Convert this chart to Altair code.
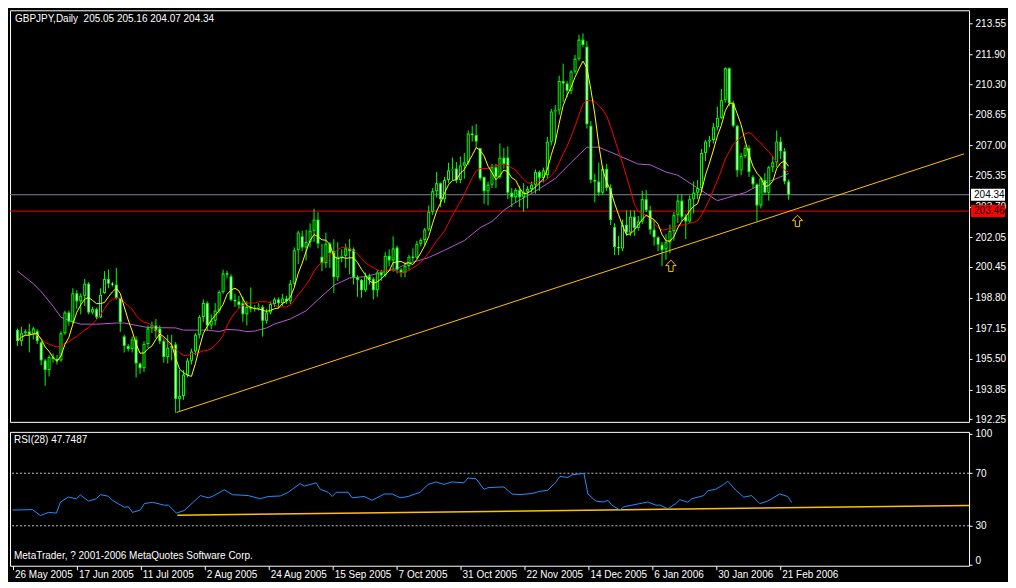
import json
import altair as alt
import pandas as pd

# ---------------- data ----------------
open_ = [197.06,196.46,196.88,196.98,196.80,197.00,196.40,195.42,194.90,195.60,
         195.50,195.42,196.88,198.00,197.50,199.03,198.60,198.90,199.55,198.00,
         198.18,197.74,199.05,199.80,199.55,199.50,198.78,196.71,196.20,196.03,
         196.54,195.25,195.00,196.30,197.14,197.30,197.14,196.45,195.60,196.10,
         196.28,193.35,193.50,194.65,195.40,195.90,196.80,197.75,198.51,197.30,
         197.55,198.10,199.10,200.10,199.95,198.68,198.60,198.50,197.90,198.30,
         198.20,198.25,198.30,197.55,198.00,198.45,198.70,198.50,198.75,198.60,
         199.55,201.35,202.10,201.50,201.80,202.40,203.00,201.00,200.66,201.70,
         201.30,199.90,201.00,201.05,201.45,201.40,199.90,199.75,199.20,199.95,
         199.80,199.20,200.15,200.00,201.05,200.80,201.50,200.30,200.15,200.50,
         201.00,200.95,201.70,201.90,202.47,203.42,204.53,204.96,204.10,205.13,
         205.65,205.75,205.13,205.91,206.08,207.63,207.55,206.85,205.30,204.53,
         204.88,205.82,205.30,206.33,206.34,204.45,204.20,204.60,204.20,204.50,
         204.65,204.88,205.56,205.25,205.40,207.19,208.82,208.89,210.46,210.33,
         209.94,210.97,211.66,212.69,212.31,208.05,205.13,205.05,204.45,205.73,
         204.70,202.60,201.52,201.45,202.72,202.30,203.15,202.55,202.90,204.10,
         203.50,202.46,202.05,201.65,201.40,201.78,202.38,203.24,204.02,203.15,
         202.90,204.10,204.45,204.70,206.59,207.20,207.28,207.97,208.48,209.43,
         211.15,209.26,208.05,205.65,206.42,206.85,205.30,204.90,203.76,205.13,
         204.45,205.82,206.08,207.20,206.68,205.05]
high = [197.14,197.23,197.10,197.40,197.23,197.10,196.45,195.50,195.70,195.80,
        195.70,196.98,198.08,198.10,199.30,199.20,199.03,199.80,199.63,198.30,
        198.26,199.30,200.23,200.32,199.65,200.41,198.80,196.80,196.30,196.71,
        196.71,195.30,196.45,197.30,197.50,197.65,197.30,196.60,196.80,196.80,
        196.40,194.90,194.90,195.55,196.05,196.90,197.85,198.70,198.60,197.90,
        198.50,199.20,200.30,200.25,200.06,199.00,198.90,198.85,198.60,199.35,
        198.40,198.50,198.40,198.20,198.60,198.80,198.80,199.00,198.90,199.75,
        201.50,202.40,202.40,202.45,202.80,203.58,203.40,201.70,202.30,201.80,
        201.95,201.78,201.40,201.70,201.95,201.50,200.00,199.80,200.15,200.10,
        199.90,200.30,200.30,201.25,201.40,202.10,201.60,200.40,200.70,201.10,
        201.45,201.85,202.00,202.55,203.76,204.70,205.56,205.00,205.30,206.06,
        206.34,206.10,206.40,206.59,207.80,208.05,208.14,206.85,205.30,205.05,
        206.00,206.00,207.10,206.85,206.94,204.70,204.70,204.80,204.96,204.80,
        205.05,205.70,205.65,205.80,207.45,208.96,209.17,210.75,211.40,210.45,
        211.05,211.86,212.95,213.03,212.60,208.30,205.47,206.07,205.90,206.00,
        204.90,202.80,202.12,203.00,203.50,203.50,203.50,203.20,204.55,204.60,
        203.75,202.98,202.10,201.80,202.21,202.73,203.41,204.36,204.36,203.30,
        204.30,205.05,205.13,206.80,207.28,207.50,208.20,209.08,210.03,211.20,
        211.20,209.40,208.10,206.60,207.00,207.00,205.39,204.95,205.30,205.50,
        205.90,206.42,207.80,207.45,206.85,205.16]
low = [196.20,196.20,196.80,195.85,196.54,196.30,195.17,194.05,194.55,195.30,
       195.20,195.35,196.80,197.30,197.40,198.20,197.90,198.35,197.90,197.90,
       197.65,197.70,199.00,199.30,199.40,198.70,196.96,195.85,195.90,195.85,
       194.50,194.70,194.80,196.10,196.90,196.62,196.30,195.30,195.25,195.42,
       192.60,192.70,193.30,194.50,195.20,195.70,196.60,197.50,197.00,197.10,
       197.30,197.95,199.00,199.85,198.60,198.30,198.20,197.50,197.30,198.00,
       198.05,198.10,196.70,197.40,197.90,198.30,198.20,198.35,198.45,198.45,
       199.40,200.60,201.30,200.80,201.50,201.80,201.45,200.23,200.40,200.40,
       199.05,199.70,200.70,200.40,200.05,199.50,198.85,198.80,199.10,199.50,
       198.70,198.85,199.70,199.90,200.50,200.20,200.10,199.90,199.90,200.30,
       200.75,200.90,201.55,201.60,202.38,203.25,204.19,203.67,203.90,204.96,
       205.13,204.96,204.96,205.20,205.95,207.20,206.85,205.10,203.85,203.76,
       204.70,204.70,205.20,205.75,204.10,203.67,203.90,203.67,203.42,203.60,
       204.45,204.40,204.55,205.00,205.20,206.99,207.10,208.65,209.33,209.60,
       209.75,210.85,211.55,212.30,207.90,204.96,203.93,204.28,204.35,204.55,
       202.70,201.09,201.09,201.30,202.12,202.12,202.12,202.40,202.75,203.40,
       202.20,201.60,201.30,200.50,200.84,201.18,201.87,202.82,202.90,201.95,
       202.80,203.33,204.10,204.50,206.16,206.90,207.10,207.80,208.40,209.30,
       209.10,207.97,205.30,205.39,206.30,205.30,204.70,202.90,203.60,204.40,
       204.02,205.56,205.82,206.25,204.90,204.07]
close = [196.46,196.88,196.98,196.80,197.14,196.46,195.42,194.90,195.60,195.50,
         195.42,196.88,198.00,197.50,199.03,198.60,198.90,199.55,198.00,198.18,
         197.74,198.95,199.80,199.55,199.50,198.78,197.48,196.20,196.03,196.54,
         195.25,195.00,196.30,197.14,197.30,197.00,196.45,195.60,196.10,196.20,
         193.35,193.50,194.65,195.40,195.90,196.80,197.75,198.51,197.30,197.55,
         198.10,199.10,200.10,200.05,198.68,198.60,198.40,197.90,198.30,198.20,
         198.25,198.30,197.55,198.00,198.45,198.70,198.50,198.75,198.60,199.55,
         201.35,202.30,201.50,201.80,202.40,203.00,201.70,200.66,201.70,201.20,
         199.90,201.00,201.05,201.45,201.30,199.90,199.75,199.20,199.95,199.75,
         199.20,200.15,200.00,201.05,200.80,201.45,200.30,200.15,200.50,201.00,
         200.95,201.70,201.90,202.47,203.42,204.53,204.96,204.10,205.13,205.65,
         205.70,205.13,205.91,206.08,207.63,207.55,207.20,205.22,204.53,204.88,
         205.82,205.30,206.33,206.00,204.45,204.20,204.60,204.20,204.50,204.65,
         204.88,205.56,205.25,205.65,207.19,208.82,208.89,210.46,210.33,209.94,
         210.97,211.66,212.69,212.40,208.14,205.13,205.05,204.45,205.73,204.70,
         202.98,201.52,201.45,202.72,202.30,203.15,202.55,202.90,204.10,203.50,
         202.46,202.05,201.65,201.35,201.78,202.38,203.24,204.02,203.15,202.90,
         204.10,204.45,204.70,206.59,207.20,207.28,207.97,208.48,209.43,211.15,
         209.26,208.05,205.65,206.42,206.85,205.56,204.90,203.76,205.22,204.45,
         205.82,206.08,207.20,206.68,205.05,204.34]

# purple (slow) moving average
ma_slow_bar = [0,4,6,9,11,14,16,20,25,27,30,33,40,42,48,51,53,56,58,60,63,65,69,73,
               76,80,84,88,92,96,98,104,108,113,117,120,123,126,131,136,140,144,
               147,152,157,160,164,167,172,177,181,184,187,191,195]
ma_slow_val = [200.23,199.55,199.12,198.34,197.74,197.49,197.37,197.37,197.43,197.43,
               197.31,197.19,197.17,197.05,197.05,196.97,197.09,197.05,196.97,197.00,
               197.17,197.38,197.65,198.09,198.69,199.46,199.86,199.93,200.15,200.37,
               200.58,200.96,201.35,201.87,202.56,202.90,203.50,203.93,204.53,205.21,
               206.07,206.90,206.90,206.45,205.99,205.95,205.56,205.39,204.70,204.02,
               204.27,204.45,204.79,205.13,205.48]

# RSI(28)
rsi_bar = [0,5,7,9,11,12,14,16,17,19,21,22,24,25,28,29,30,32,33,35,38,39,41,43,47,49,
           50,53,55,59,62,64,67,69,72,73,76,77,79,80,81,84,85,88,90,93,95,97,99,102,
           104,106,108,110,113,114,116,118,119,122,123,125,127,130,132,134,136,137,
           139,140,143,144,146,148,149,150,152,153,155,157,159,161,162,164,166,167,
           169,170,173,174,176,178,179,181,183,185,187,189,192,194,195]
rsi_val = [42.0,42.3,37.8,40.2,39.7,48.1,51.8,50.6,53.5,48.8,50.6,53.7,52.5,49.4,44.1,
           44.5,40.2,42.0,46.9,47.9,45.7,45.7,39.7,41.6,53.0,51.3,52.3,57.4,53.7,53.0,
           50.6,52.3,52.7,55.5,62.2,60.2,62.7,57.8,55.5,52.3,55.5,55.5,51.3,52.3,49.4,
           54.2,54.2,51.3,52.3,55.5,61.5,63.4,61.5,63.4,62.7,66.4,65.8,57.8,59.0,59.5,
           59.5,54.2,53.7,54.6,56.2,57.1,63.4,67.6,66.8,68.8,69.9,54.2,48.8,48.1,49.4,
           45.7,42.0,44.5,45.7,46.9,48.1,45.7,45.7,43.0,46.9,49.9,47.9,50.6,53.0,56.6,
           57.8,61.5,63.9,57.1,51.8,53.0,46.9,48.8,54.2,52.3,47.7]

# trend lines (bar index, value)
tl_price_bar = [40.25, 239.375]
tl_price_val = [192.62, 206.54]
tl_rsi_bar = [41.25, 239.375]
tl_rsi_val = [38.0, 45.5]

# arrows
arrow_bar = [165.25, 197.25]
arrow_price = [200.51, 202.93]

# price levels
level_val = [204.34, 203.46]
level_lab = ["204.34", "203.46"]
level_line = ["#778899", "#FF0000"]
level_box = ["#FFFFFF", "#FF0000"]

price_ticks = [192.25, 193.85, 195.50, 197.15, 198.80, 200.45, 202.05, 203.70,
               205.35, 207.00, 208.65, 210.30, 211.90, 213.55]
rsi_ticks = [0, 30, 70, 100]
rsi_levels = [30, 70]
date_ticks = [0, 16, 32, 48, 64, 80, 96, 112, 128, 144, 160, 176, 192]
date_labels = ["26 May 2005", "17 Jun 2005", "11 Jul 2005", "2 Aug 2005", "24 Aug 2005",
               "15 Sep 2005", "7 Oct 2005", "31 Oct 2005", "22 Nov 2005", "14 Dec 2005",
               "6 Jan 2006", "30 Jan 2006", "21 Feb 2006"]

title_text = "GBPJPY,Daily\u00a0 205.05 205.16 204.07 204.34"
rsi_text = "RSI(28) 47.7487"
copy_text = "MetaTrader, ? 2001-2006 MetaQuotes Software Corp."

# ---------------- chart ----------------
FONT = "Liberation Sans"
W = 960
H_MAIN = 412
H_RSI = 134
LIME = "#00FF00"
GOLD = "#FFC000"

n = len(close)
candles = pd.DataFrame({"i": list(range(n)), "O": open_, "H": high, "L": low, "C": close})
candles["top"] = candles[["O", "C"]].max(axis=1)
candles["bot"] = candles[["O", "C"]].min(axis=1)

xscale = alt.Scale(domain=[-0.625, 239.375], nice=False, zero=False)
pscale = alt.Scale(domain=[192.11, 214.27], nice=False, zero=False)
rscale = alt.Scale(domain=[-0.4, 101.5], nice=False, zero=False)

X = alt.X("i:Q", scale=xscale, axis=None)
price_axis = alt.Axis(values=price_ticks, format=".2f", orient="right", grid=False,
                      domain=False, tickColor="white", tickSize=3, labelPadding=3,
                      labelOverlap=False, labelBound=False,
                      labelColor="white", labelFont=FONT, labelFontSize=10, title=None)

base = alt.Chart(candles)

levels_df = pd.DataFrame({"v": level_val, "lab": level_lab, "lc": level_line, "bc": level_box})
level_lines = alt.Chart(levels_df).mark_rule(strokeWidth=1).encode(
    y=alt.Y("v:Q", scale=pscale, axis=price_axis),
    color=alt.Color("lc:N", scale=None))

wicks = base.mark_rule(color=LIME, strokeWidth=1).encode(
    x=X, y=alt.Y("L:Q", scale=pscale, axis=price_axis), y2="H:Q")
bodies = base.mark_bar(size=3, color=LIME).encode(
    x=X, y=alt.Y("top:Q", scale=pscale, axis=price_axis), y2="bot:Q")
inner = base.mark_bar(size=1, yOffset=1, y2Offset=-1).encode(
    x=X, y=alt.Y("top:Q", scale=pscale, axis=price_axis), y2="bot:Q",
    color=alt.condition("datum.C < datum.O", alt.value("#FFFFFF"), alt.value("#000000")))

ma_fast = base.transform_window(
    m="mean(C)", frame=[-4, 0], sort=[alt.SortField("i")]
).mark_line(color="#FFFF00", strokeWidth=1).encode(
    x=X, y=alt.Y("m:Q", scale=pscale, axis=price_axis))
ma_mid = base.transform_window(
    m="mean(C)", frame=[-12, 0], sort=[alt.SortField("i")]
).mark_line(color="#FF0000", strokeWidth=1).encode(
    x=X, y=alt.Y("m:Q", scale=pscale, axis=price_axis))
slow_df = pd.DataFrame({"i": ma_slow_bar, "m": ma_slow_val})
ma_slow = alt.Chart(slow_df).mark_line(color="#BA55D3", strokeWidth=1).encode(
    x=X, y=alt.Y("m:Q", scale=pscale, axis=price_axis))

tl_df = pd.DataFrame({"i": tl_price_bar, "v": tl_price_val})
trend = alt.Chart(tl_df).mark_line(color=GOLD, strokeWidth=1).encode(
    x=X, y=alt.Y("v:Q", scale=pscale, axis=price_axis))

arrow_path = "M0,-1L0.9,-0.05L0.38,-0.05L0.38,1L-0.38,1L-0.38,-0.05L-0.9,-0.05Z"
arr_df = pd.DataFrame({"i": arrow_bar, "v": arrow_price})
arrows = alt.Chart(arr_df).mark_point(shape=arrow_path, size=130, filled=True,
                                      fill="#000000", stroke=GOLD, strokeWidth=1,
                                      opacity=1).encode(
    x=X, y=alt.Y("v:Q", scale=pscale, axis=price_axis))

title_df = pd.DataFrame({"t": [title_text]})
title = alt.Chart(title_df).mark_text(align="left", baseline="middle", color="white",
                                      font=FONT, fontSize=10).encode(
    x=alt.value(5), y=alt.value(9), text="t:N")

boxes = alt.Chart(levels_df).mark_rect(yOffset=-6, y2Offset=6).encode(
    x=alt.value(W + 2), x2=alt.value(W + 36),
    y=alt.Y("v:Q", scale=pscale, axis=price_axis), y2="v:Q",
    color=alt.Color("bc:N", scale=None))
box_text = alt.Chart(levels_df).mark_text(align="left", baseline="middle", color="black",
                                          font=FONT, fontSize=10).encode(
    x=alt.value(W + 5), y=alt.Y("v:Q", scale=pscale, axis=price_axis), text="lab:N")

main = alt.layer(level_lines, ma_slow, wicks, bodies, inner, ma_mid, ma_fast, trend,
                 arrows, title, boxes, box_text).properties(width=W, height=H_MAIN)

# ---------------- RSI panel ----------------
label_expr = json.dumps(date_labels) + "[round(datum.value / 16)]"
date_axis = alt.Axis(values=date_ticks, labelExpr=label_expr, orient="bottom", grid=False,
                     domain=False, tickColor="white", tickSize=4, labelAlign="left",
                     labelBaseline="top", labelOffset=2, labelPadding=0, labelColor="white",
                     labelFont=FONT, labelFontSize=10, labelOverlap=False, title=None)
rsi_axis = alt.Axis(values=rsi_ticks, orient="right", grid=False, domain=False,
                    tickColor="white", tickSize=3, labelPadding=3, labelFlush=True,
                    labelOverlap=False,
                    labelColor="white", labelFont=FONT, labelFontSize=10, title=None)

rsi_df = pd.DataFrame({"i": rsi_bar, "r": rsi_val})
lv_df = pd.DataFrame({"r": rsi_levels})
rsi_levels_layer = alt.Chart(lv_df).mark_rule(color="#C0C0C0", strokeWidth=1,
                                              strokeDash=[2, 2]).encode(
    y=alt.Y("r:Q", scale=rscale, axis=rsi_axis))
rsi_line = alt.Chart(rsi_df).mark_line(color="#1E90FF", strokeWidth=1).encode(
    x=alt.X("i:Q", scale=xscale, axis=date_axis), y=alt.Y("r:Q", scale=rscale, axis=rsi_axis))
rtl_df = pd.DataFrame({"i": tl_rsi_bar, "r": tl_rsi_val})
rsi_trend = alt.Chart(rtl_df).mark_line(color=GOLD, strokeWidth=1.5).encode(
    x=alt.X("i:Q", scale=xscale, axis=date_axis), y=alt.Y("r:Q", scale=rscale, axis=rsi_axis))
rtxt_df = pd.DataFrame({"t": [rsi_text]})
rsi_title = alt.Chart(rtxt_df).mark_text(align="left", baseline="middle", color="white",
                                         font=FONT, fontSize=10).encode(
    x=alt.value(4), y=alt.value(8), text="t:N")
ctxt_df = pd.DataFrame({"t": [copy_text]})
copy_layer = alt.Chart(ctxt_df).mark_text(align="left", baseline="middle", color="white",
                                          font=FONT, fontSize=10).encode(
    x=alt.value(4), y=alt.value(H_RSI - 10), text="t:N")

rsi = alt.layer(rsi_levels_layer, rsi_trend, rsi_line, rsi_title, copy_layer).properties(
    width=W, height=H_RSI)

chart = alt.vconcat(main, rsi, spacing=3).properties(
    padding={"left": 1, "top": 1, "right": 1, "bottom": 1}
).configure(background="#000000").configure_view(
    stroke="white", strokeWidth=1
).configure_axis(labelOverlap=False, labelBound=False)

chart.save("out.html", embed_options={"renderer": "svg", "actions": False})
